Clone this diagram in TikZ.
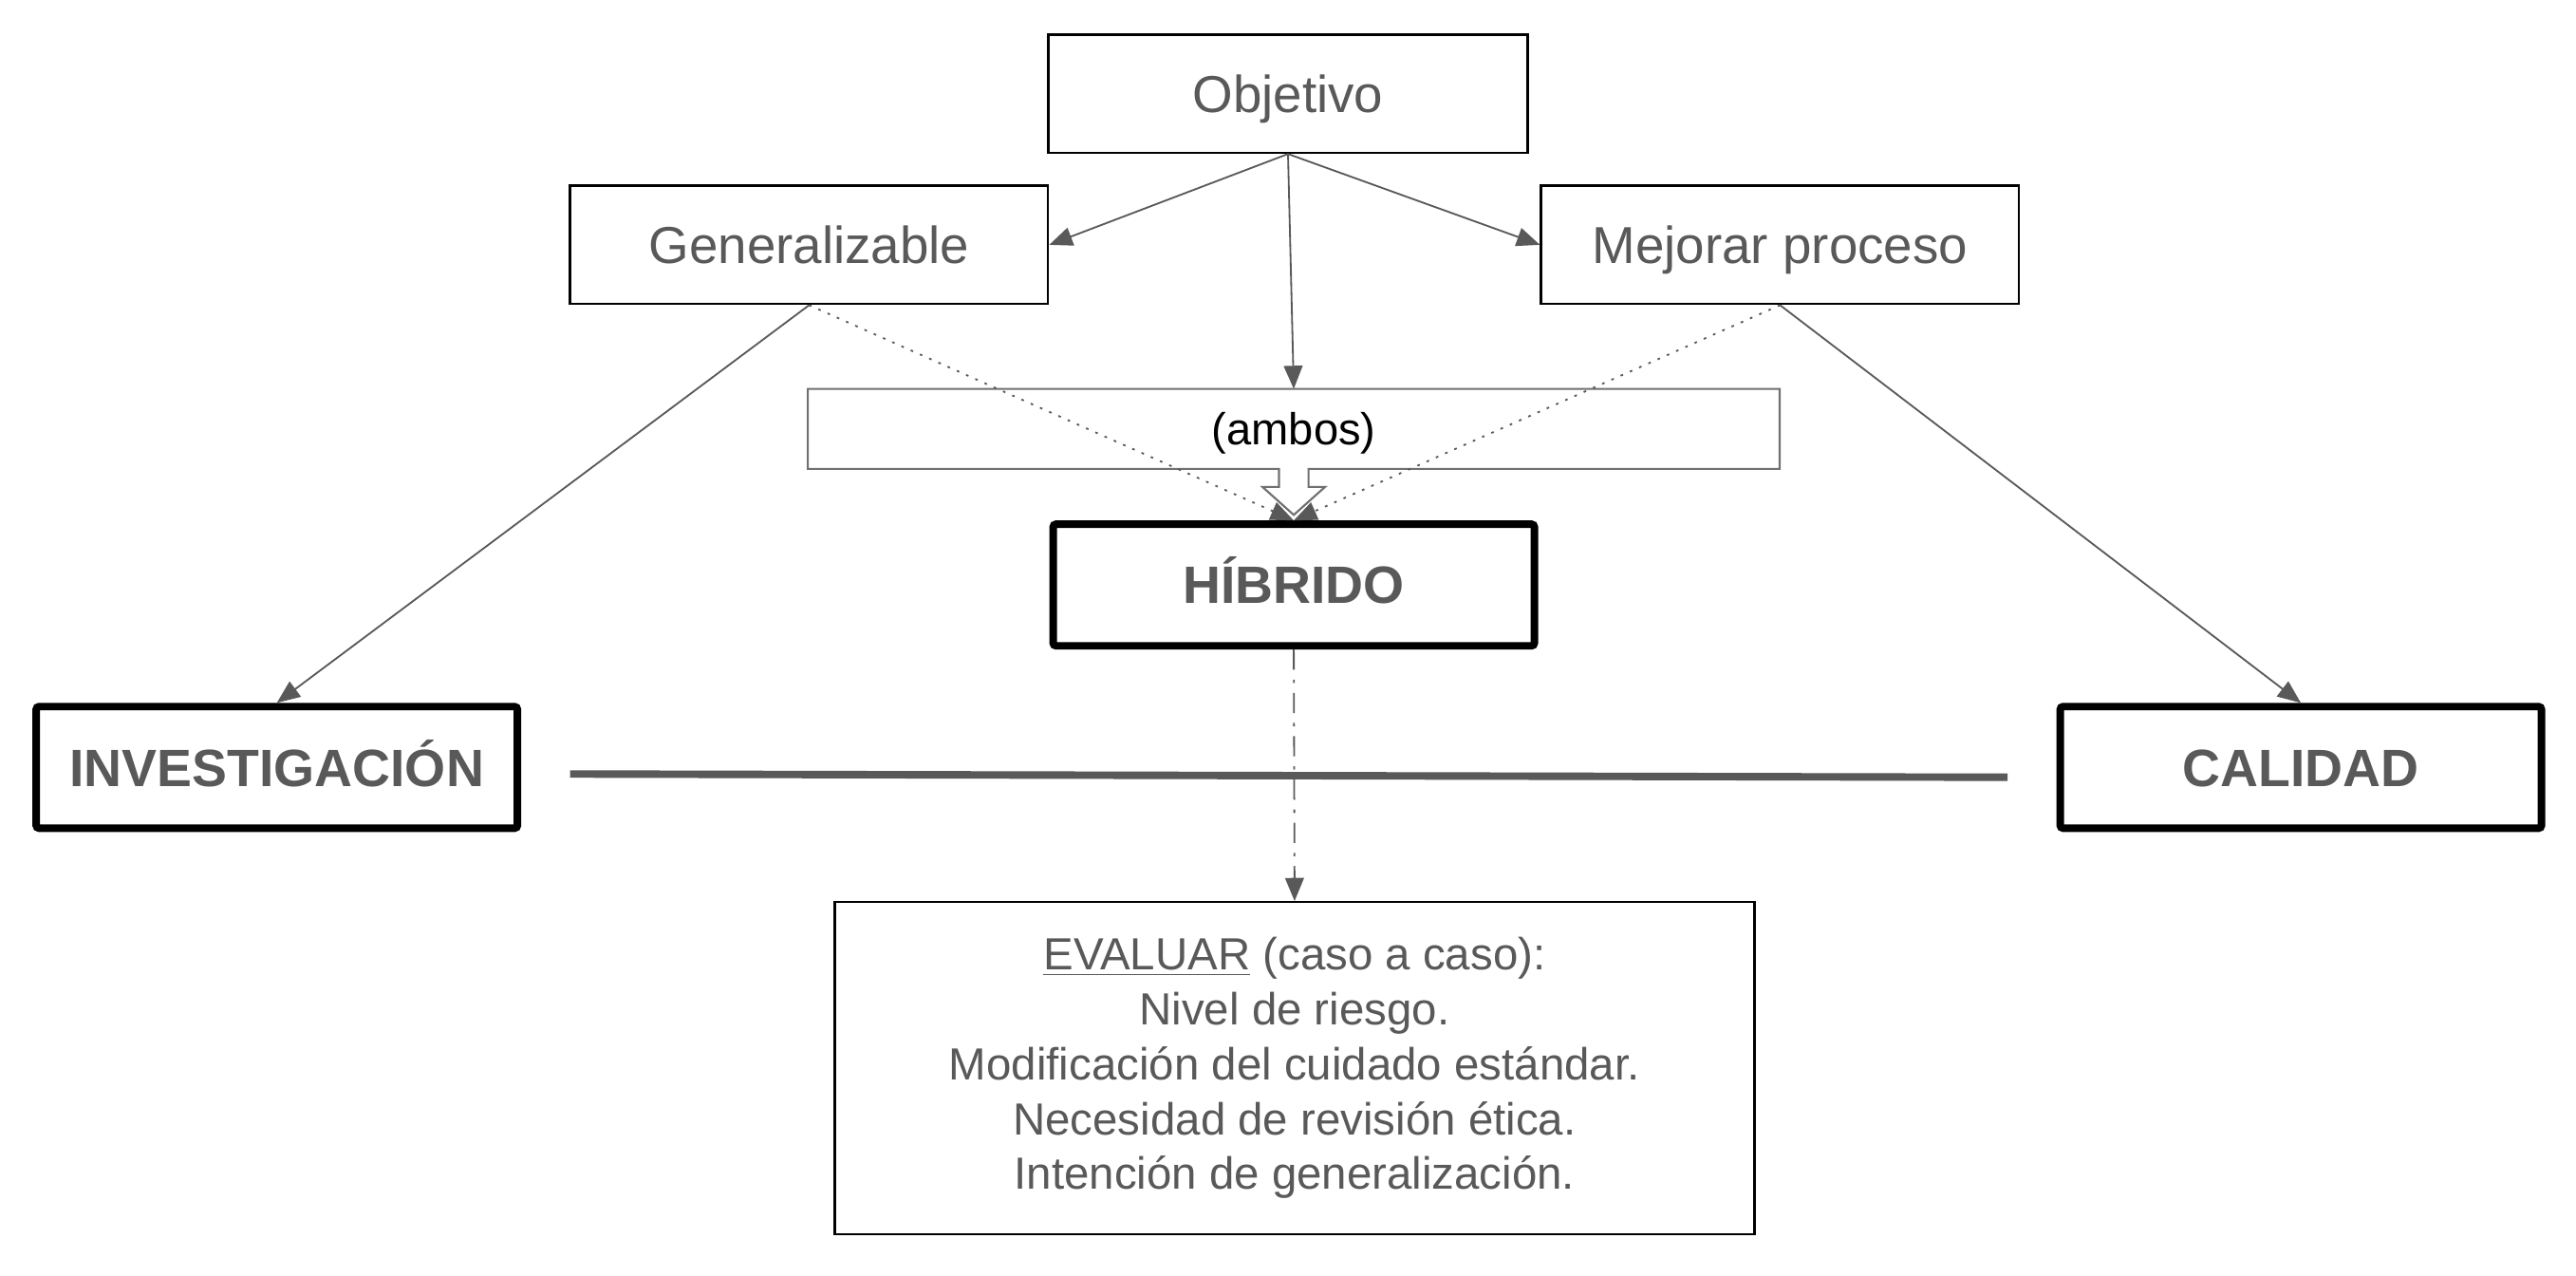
\documentclass[tikz,border=0pt]{standalone}
\usepackage{fontspec}
\setmainfont{Liberation Sans}
\usetikzlibrary{arrows.meta,calc}
\definecolor{txtgray}{HTML}{595959}
\definecolor{boxgray}{HTML}{707070}
\tikzset{
  lbl/.style={text height=16.5pt, text depth=3.5pt},
  plainbox/.style={draw=black, line width=0.8pt, inner sep=0pt, text=txtgray,
    font=\fontsize{18}{22}\selectfont},
  thickbox/.style={draw=black, line width=2.6pt, rounded corners=1pt, inner sep=0pt, text=txtgray,
    font=\fontsize{18.2}{22}\selectfont\bfseries, minimum width=5.86cm, minimum height=1.48cm, lbl},
  conn/.style={draw=txtgray, line width=0.6pt, -{Triangle[length=8pt,width=6.5pt]}},
  dotconn/.style={conn, dash pattern=on 0.9pt off 2.6pt},
  dashdotconn/.style={conn, dash pattern=on 7pt off 3.4pt on 1.2pt off 3.4pt},
}
\begin{document}
\begin{tikzpicture}[x=0.02cm, y=-0.02cm]
\useasboundingbox[fill=white] (0,0) rectangle (1568,776);

\node[plainbox, lbl, minimum width=5.84cm, minimum height=1.44cm] (obj) at (784,57) {Objetivo};
\node[plainbox, lbl, minimum width=5.82cm, minimum height=1.44cm] (gen) at (492.5,149) {Generalizable};
\node[plainbox, lbl, minimum width=5.82cm, minimum height=1.44cm] (mej) at (1083.5,149) {Mejorar proceso};

\node[inner sep=0pt, text height=14.2pt, text depth=3pt, minimum width=11.82cm, minimum height=0.96cm,
  font=\fontsize{15.5}{19}\selectfont] (ambos) at (787.5,261) {(ambos)};
\draw[boxgray, line width=0.7pt, line join=miter]
  ($(ambos.south)+(-9,0)$) -- (ambos.south west) -- (ambos.north west) -- (ambos.north east)
  -- (ambos.south east) -- ($(ambos.south)+(9,0)$) -- ($(ambos.south)+(9,11)$)
  -- ($(ambos.south)+(19,11)$) -- ($(ambos.south)+(0,28)$) -- ($(ambos.south)+(-19,11)$)
  -- ($(ambos.south)+(-9,11)$) -- cycle;

\node[thickbox] (hib) at (787.5,356) {HÍBRIDO};
\node[thickbox] (inv) at (168.5,467) {INVESTIGACIÓN};
\node[thickbox] (cal) at (1400.5,467) {CALIDAD};

\node[plainbox, minimum width=11.2cm, minimum height=4.04cm, align=center,
  font=\fontsize{15.6}{19}\selectfont] (eval) at (788,650)
  {\underline{EVALUAR} (caso a caso):\\ Nivel de riesgo.\\ Modificación del cuidado estándar.\\
   Necesidad de revisión ética.\\ Intención de generalización.};

\coordinate (hl) at (347,471);
\coordinate (hr) at (1222,473);
\draw[txtgray, line width=2.6pt] (hl) -- (hr);

\draw[conn] (obj.south) -- (gen.east);
\draw[conn] (obj.south) -- (mej.west);
\draw[conn] (obj.south) -- (ambos.north);
\draw[conn] (gen.south) -- (inv.north);
\draw[conn] (mej.south) -- (cal.north);
\draw[dotconn] (gen.south) -- (hib.north);
\draw[dotconn] (mej.south) -- (hib.north);
\draw[dashdotconn] (hib.south) -- (eval.north);
\end{tikzpicture}
\end{document}
